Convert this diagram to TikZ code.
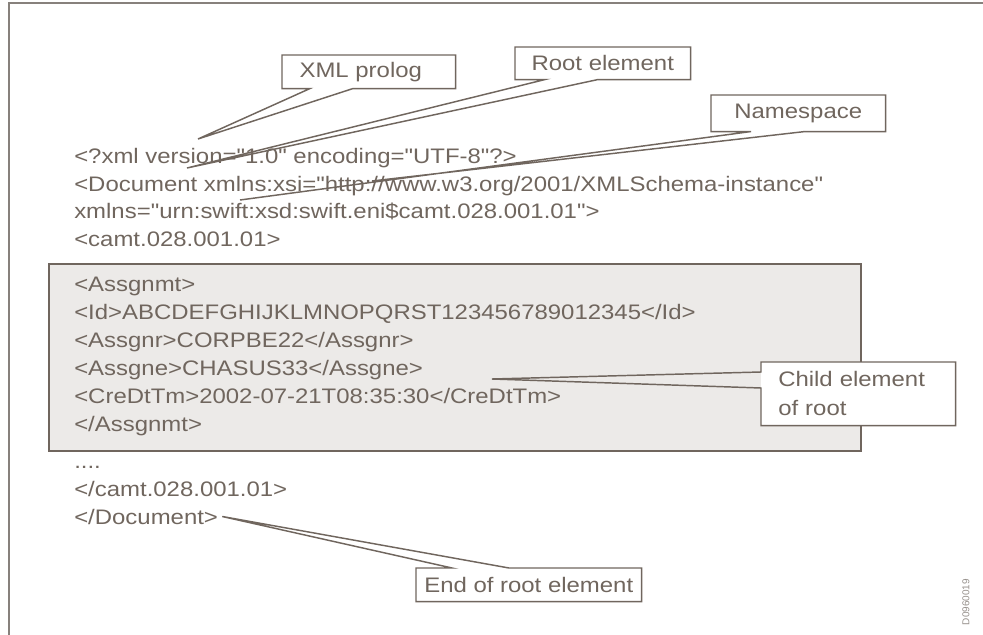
\documentclass[tikz,border=0pt]{standalone}
\usepackage{fontspec}
\setmainfont{Liberation Sans}[FakeStretch=1.14, Ligatures=TeXOff]
\newfontfamily\tagfont{Liberation Sans}
\usetikzlibrary{calc}
\definecolor{ink}{RGB}{112,102,94}
\definecolor{boxfill}{RGB}{236,234,232}
\definecolor{framegray}{RGB}{135,129,124}
\definecolor{taggray}{RGB}{150,144,139}
\newcommand{\codefont}{\fontsize{15.75}{21.75}\selectfont}
\begin{document}
\begin{tikzpicture}[x=0.75pt,y=-0.75pt,
  code/.style={anchor=base west, inner sep=0pt, text=ink, font=\codefont},
  callout/.style={anchor=north west, inner sep=0pt, fill=white, text=ink, font=\codefont, align=center},
  wedge/.style={draw=ink, line width=1.1pt, line join=miter},
  graybox/.style={anchor=north west, inner sep=0pt, fill=boxfill, draw=ink, line width=1.5pt,
    minimum width=609pt, minimum height=140.25pt},
  frameline/.style={draw=framegray, line width=1.5pt}]
\useasboundingbox (0,0) rectangle (983,635);
% outer frame (top and left edges only)
\coordinate (fA) at (8.5,635);
\coordinate (fB) at (8.5,3.5);
\coordinate (fC) at (983,3.5);
\draw[frameline] (fA) -- (fB) -- (fC);

% grey child block
\node[graybox] (grp) at (48,263) {};

% code lines
\node[code] (l1) at (74,163) {<?xml version="1.0" encoding="UTF-8"?>};
\node[code] (l2) at (74,191) {<Document xmlns:xsi="http://www.w3.org/2001/XMLSchema-instance"};
\node[code] (l3) at (74,219) {xmlns="urn:swift:xsd:swift.eni\$camt.028.001.01">};
\node[code] (l4) at (74,247) {<camt.028.001.01>};
\node[code] (b1) at (74,291) {<Assgnmt>};
\node[code] (b2) at (74,319) {<Id>ABCDEFGHIJKLMNOPQRST123456789012345</Id>};
\node[code] (b3) at (74,347) {<Assgnr>CORPBE22</Assgnr>};
\node[code] (b4) at (74,375) {<Assgne>CHASUS33</Assgne>};
\node[code] (b5) at (74,403) {<CreDtTm>2002-07-21T08:35:30</CreDtTm>};
\node[code] (b6) at (74,431) {</Assgnmt>};
\node[code] (d1) at (74,468) {....};
\node[code] (d2) at (74,496) {</camt.028.001.01>};
\node[code] (d3) at (74,524) {</Document>};

% tips
\coordinate (xpTip) at (198,139);
\coordinate (reTip) at (187,168);
\coordinate (nsTipA) at (240,200);
\coordinate (nsTipB) at (372,181);
\coordinate (chTip) at (492,379);
\coordinate (erTip) at ($(d3.east)+(4,0)$);

% XML prolog
\node[callout, minimum width=129.75pt, minimum height=24.75pt] (xp) at (282,55) {XML prolog\hspace*{12pt}};
\draw[wedge] ($(xp.south west)+(28,0)$) -- (xpTip) -- ($(xp.south west)+(71,0)$)
  -- (xp.south east) -- (xp.north east) -- (xp.north west) -- (xp.south west) -- cycle;

% Root element
\node[callout, minimum width=131.25pt, minimum height=24pt] (re) at (515,47) {Root element};
\draw[wedge] ($(re.south west)+(30,0)$) -- (reTip) -- ($(re.south west)+(83,0)$)
  -- (re.south east) -- (re.north east) -- (re.north west) -- (re.south west) -- cycle;

% Namespace
\node[callout, minimum width=130.5pt, minimum height=27pt] (ns) at (711,95) {Namespace};
\draw[wedge] (nsTipA) -- ($(ns.south west)+(40,0)$) -- (ns.south west) -- (ns.north west)
  -- (ns.north east) -- (ns.south east) -- ($(ns.south west)+(94,0)$) -- (nsTipB);

% Child element of root
\node[callout, align=left, text width=120pt, inner xsep=12.75pt, minimum width=145.5pt, minimum height=47.25pt] (ch) at (761,362) {Child element\\of root};
\draw[wedge] ($(ch.north west)+(0,10)$) -- (chTip) -- ($(ch.north west)+(0,26)$)
  -- (ch.south west) -- (ch.south east) -- (ch.north east) -- (ch.north west) -- cycle;

% End of root element
\node[callout, minimum width=168.75pt, minimum height=24.75pt] (er) at (416,568) {End of root element};
\draw[wedge] ($(er.north west)+(36,0)$) -- (erTip) -- ($(er.north west)+(93,0)$)
  -- (er.north east) -- (er.south east) -- (er.south west) -- (er.north west) -- cycle;

% figure tag
\node[rotate=90, inner sep=0pt, text=taggray, font=\tagfont\fontsize{7.5}{9}\selectfont] (tag) at (966,602) {D0960019};
\end{tikzpicture}
\end{document}
